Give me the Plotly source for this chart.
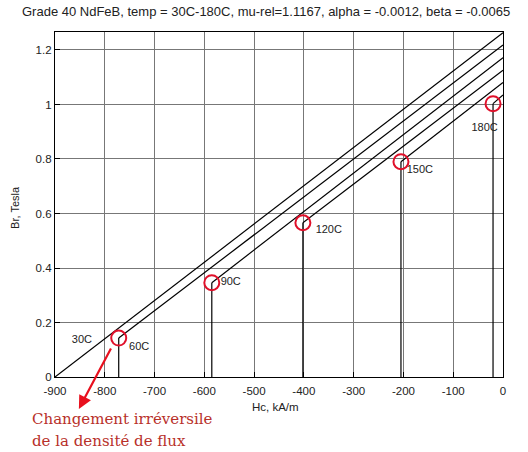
import plotly.graph_objects as go

# Data
temps = ["30C", "60C", "90C", "120C", "150C", "180C"]
br_at_zero = [1.263, 1.218, 1.172, 1.126, 1.081, 1.035]      # B at H = 0 (T)
knee_h = [-900, -772, -585, -402, -205, -20]                  # knee H (kA/m)
knee_b = [0.0, 0.143, 0.346, 0.566, 0.790, 1.003]             # knee B (T)
label_h = [-846, -731, -547, -350, -167, -37]
label_b = [0.136, 0.11, 0.349, 0.539, 0.76, 0.914]
x_ticks = [-900, -800, -700, -600, -500, -400, -300, -200, -100, 0]
x_tick_text = ["-900", "-800", "-700", "-600", "-500", "-400", "-300", "-200", "-100", "0"]
y_ticks = [0, 0.2, 0.4, 0.6, 0.8, 1, 1.2]
y_tick_text = ["0", "0.2", "0.4", "0.6", "0.8", "1", "1.2"]

fig = go.Figure()

# demagnetisation lines
for t, h0, b0, br in zip(temps, knee_h, knee_b, br_at_zero):
    fig.add_trace(go.Scatter(x=[h0, 0], y=[b0, br], mode="lines",
                             line=dict(color="black", width=1.2),
                             showlegend=False, hoverinfo="skip"))
# vertical drop lines at knees (skip 30C, which ends on the axis)
for h0, b0 in zip(knee_h[1:], knee_b[1:]):
    fig.add_trace(go.Scatter(x=[h0, h0], y=[b0, 0], mode="lines",
                             line=dict(color="black", width=1.2),
                             showlegend=False, hoverinfo="skip"))
# red circles at knees
fig.add_trace(go.Scatter(x=knee_h[1:], y=knee_b[1:], mode="markers",
                         marker=dict(symbol="circle-open", size=15,
                                     color="#e0102a", line=dict(width=2)),
                         showlegend=False, hoverinfo="skip"))
# temperature labels
fig.add_trace(go.Scatter(x=label_h, y=label_b, mode="text", text=temps,
                         textfont=dict(family="Liberation Sans, Arial", size=11, color="#222"),
                         showlegend=False, hoverinfo="skip"))

# red arrow
fig.add_annotation(x=-852, y=-0.117, ax=-786, ay=0.11, xref="x", yref="y",
                   axref="x", ayref="y", showarrow=True, arrowhead=2,
                   arrowsize=1.2, arrowwidth=2.2, arrowcolor="#e8101e", text="")
# french annotation (two lines)
red_font = dict(family="DejaVu Serif, Liberation Serif", size=15, color="#b8302a")
fig.add_annotation(x=-0.0558, y=(377 - 419) / 345, xref="paper", yref="paper",
                   text="Changement irréversile", showarrow=False,
                   xanchor="left", yanchor="middle", font=red_font)
fig.add_annotation(x=-0.0558, y=(377 - 441) / 345, xref="paper", yref="paper",
                   text="de la densité de flux", showarrow=False,
                   xanchor="left", yanchor="middle", font=red_font)
# axis titles
fig.add_annotation(x=-0.0893, y=0.493, xref="paper", yref="paper",
                   text="Br, Tesla", textangle=-90, showarrow=False,
                   xanchor="center", yanchor="middle", font=dict(size=11, color="#222"))
fig.add_annotation(x=0.493, y=-0.087, xref="paper", yref="paper",
                   text="Hc, kA/m", showarrow=False,
                   xanchor="center", yanchor="middle", font=dict(size=11.5, color="#222"))

fig.update_layout(
    width=528, height=452,
    margin=dict(l=55, r=25, t=32, b=75),
    paper_bgcolor="white", plot_bgcolor="white",
    font=dict(family="Liberation Sans, Arial", size=11.5, color="#222"),
    title=dict(text="Grade 40 NdFeB, temp = 30C-180C, mu-rel=1.1167, alpha = -0.0012, beta = -0.0065",
               xref="container", x=22 / 528, xanchor="left",
               yref="container", y=1 - 11 / 452, yanchor="middle",
               font=dict(size=13, color="#222")),
    xaxis=dict(range=[-900, 0], tickvals=x_ticks, ticktext=x_tick_text, showgrid=True,
               gridcolor="#777", gridwidth=1, zeroline=False,
               showline=True, linecolor="black", linewidth=1.2, mirror=True,
               ticks="inside", ticklen=5, tickcolor="black", automargin=False,
               ticklabelstandoff=3),
    yaxis=dict(range=[0, 1.266], tickvals=y_ticks, ticktext=y_tick_text,
               showgrid=True, gridcolor="#777", gridwidth=1, zeroline=False,
               showline=True, linecolor="black", linewidth=1.2, mirror=True,
               ticks="inside", ticklen=5, tickcolor="black", automargin=False),
)

fig.write_html("out.html", config={"displayModeBar": False},
               post_script="document.body.style.margin='0';")
